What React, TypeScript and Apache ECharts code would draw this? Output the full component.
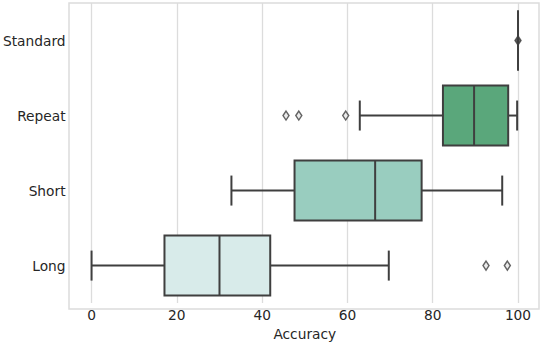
import React, { useEffect, useRef } from "react";
import * as echarts from "echarts";

const categories = ["Standard", "Repeat", "Short", "Long"];
// [whiskerLow, Q1, median, Q3, whiskerHigh]
const boxStats = [
  [100, 100, 100, 100, 100],
  [62.9, 82.4, 89.7, 97.7, 99.8],
  [32.8, 47.6, 66.5, 77.4, 96.3],
  [0, 17.1, 30.0, 41.9, 69.7],
];
const boxColors = ["#2d8a4f", "#5aa77b", "#99cdbf", "#d8ebea"];
const outlierValues = [100, 45.6, 48.6, 59.6, 92.5, 97.5];
const outlierCats = ["Standard", "Repeat", "Repeat", "Repeat", "Long", "Long"];
const xTicks = [0, 20, 40, 60, 80, 100];

const EDGE = "#3f3f3f";
const TEXT = "#262626";
const GRIDC = "#dcdcdc";
const FONT = "DejaVu Sans";

export default function App() {
  const ref = useRef<HTMLDivElement>(null);
  useEffect(() => {
    document.body.style.margin = "0";
    const chart = echarts.init(ref.current!, null, { renderer: "svg" });
    const customData = boxStats.map((s, i) => [i, ...s]);
    const scatterData = outlierValues.map((v, i) => ({
      value: [v, outlierCats[i]],
      itemStyle: outlierCats[i] === "Standard" ? { color: EDGE } : undefined,
    }));
    chart.setOption({
      animation: false,
      backgroundColor: "#ffffff",
      grid: { left: 90, right: 22, top: 3, bottom: 37, containLabel: false },
      graphic: [
        {
          type: "rect",
          shape: { x: 69, y: 3, width: 470, height: 306 },
          style: { fill: "none", stroke: GRIDC, lineWidth: 1.5 },
          z: -1,
          silent: true,
        },
      ],
      xAxis: {
        type: "value",
        min: xTicks[0],
        max: xTicks[xTicks.length - 1],
        interval: 20,
        name: "Accuracy",
        nameLocation: "middle",
        nameGap: 22,
        nameTextStyle: { color: TEXT, fontSize: 13.75, fontFamily: FONT },
        axisLine: { show: false },
        axisTick: { show: false },
        axisLabel: { color: TEXT, fontSize: 13.75, fontFamily: FONT, margin: 5 },
        splitLine: { show: true, lineStyle: { color: GRIDC, width: 1.3 } },
      },
      yAxis: {
        type: "category",
        data: categories,
        inverse: true,
        axisLine: { show: false },
        axisTick: { show: false },
        axisLabel: { color: TEXT, fontSize: 13.75, fontFamily: FONT, margin: 26 },
        splitLine: { show: false },
      },
      series: [
        {
          type: "custom",
          clip: false,
          data: customData,
          encode: { x: [1, 2, 3, 4, 5], y: 0 },
          renderItem: (params: any, api: any) => {
            const cat = api.value(0);
            const vals = [1, 2, 3, 4, 5].map((k) => api.value(k));
            const band = api.size([0, 1])[1];
            const pts = vals.map((v: number) => api.coord([v, cat]));
            const cy = pts[0][1];
            const bh = band * 0.8;
            const ch = band * 0.4;
            const [pMin, pQ1, pMed, pQ3, pMax] = pts.map((p: number[]) => p[0]);
            const ls = { stroke: EDGE, lineWidth: 2 };
            return {
              type: "group",
              children: [
                { type: "line", shape: { x1: pMin, y1: cy, x2: pQ1, y2: cy }, style: ls },
                { type: "line", shape: { x1: pQ3, y1: cy, x2: pMax, y2: cy }, style: ls },
                { type: "line", shape: { x1: pMin, y1: cy - ch / 2, x2: pMin, y2: cy + ch / 2 }, style: ls },
                { type: "line", shape: { x1: pMax, y1: cy - ch / 2, x2: pMax, y2: cy + ch / 2 }, style: ls },
                {
                  type: "rect",
                  shape: { x: pQ1, y: cy - bh / 2, width: pQ3 - pQ1, height: bh },
                  style: { fill: boxColors[params.dataIndex], stroke: EDGE, lineWidth: 2 },
                },
                { type: "line", shape: { x1: pMed, y1: cy - bh / 2, x2: pMed, y2: cy + bh / 2 }, style: ls },
              ],
            };
          },
          z: 3,
        },
        {
          type: "scatter",
          data: scatterData,
          symbol: "diamond",
          symbolSize: [6, 9],
          itemStyle: { color: "#e6e6e6", borderColor: EDGE, borderWidth: 1.5 },
          z: 4,
        },
      ],
    });
    return () => chart.dispose();
  }, []);
  return <div ref={ref} style={{ width: 540, height: 346 }} />;
}
